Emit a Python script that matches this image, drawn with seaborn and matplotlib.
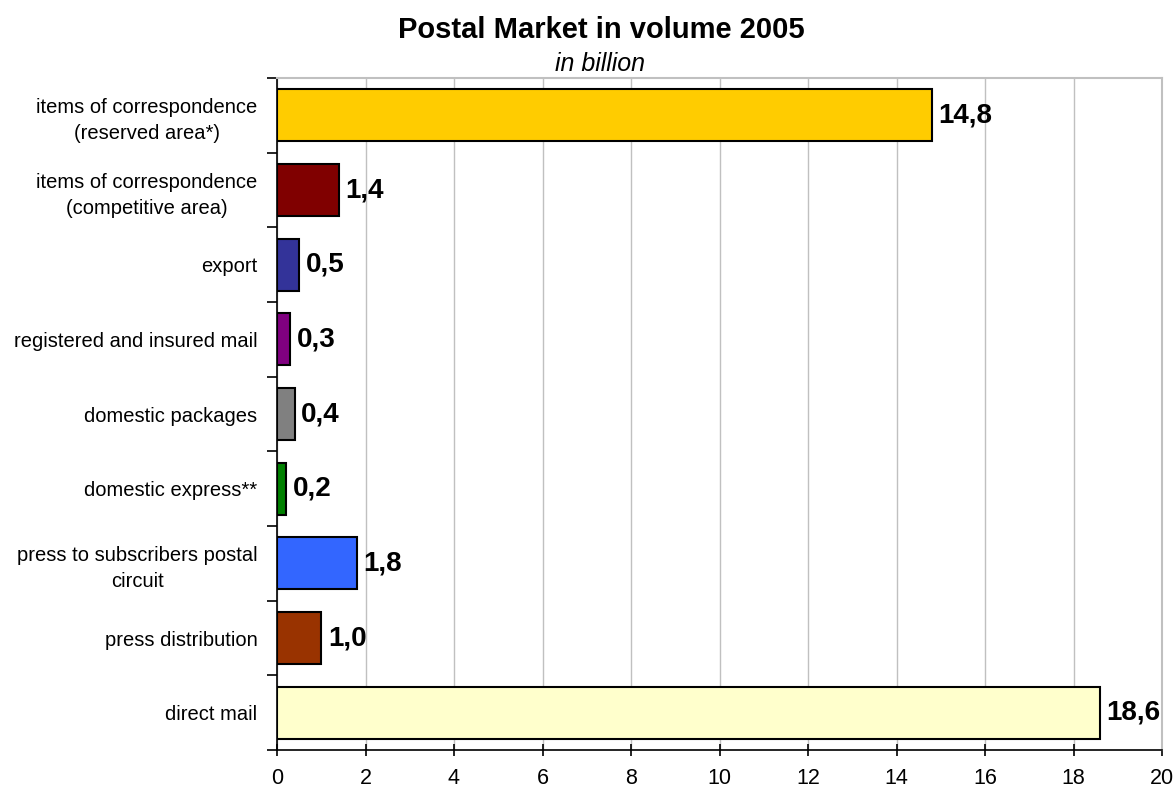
import matplotlib
matplotlib.use("Agg")
import matplotlib.pyplot as plt
import seaborn as sns
import pandas as pd
import numpy as np

categories = [
    "items of correspondence\n(reserved area*)",
    "items of correspondence\n(competitive area)",
    "export",
    "registered and insured mail",
    "domestic packages",
    "domestic express**",
    "press to subscribers postal\ncircuit",
    "press distribution",
    "direct mail",
]
values = [14.8, 1.4, 0.5, 0.3, 0.4, 0.2, 1.8, 1.0, 18.6]
value_labels = ["14,8", "1,4", "0,5", "0,3", "0,4", "0,2", "1,8", "1,0", "18,6"]
colors = ["#FFCC00", "#800000", "#333399", "#800080", "#808080",
          "#008000", "#3366FF", "#993300", "#FFFFCC"]
x_ticks = [0, 2, 4, 6, 8, 10, 12, 14, 16, 18, 20]

sns.set_theme(style="white")
plt.rcParams['font.family'] = ['Liberation Sans', 'DejaVu Sans']
plt.rcParams['text.color'] = 'black'
plt.rcParams['xtick.color'] = 'black'
plt.rcParams['ytick.color'] = 'black'

df = pd.DataFrame({"category": categories, "value": values})

fig = plt.figure(figsize=(11.76, 7.93), dpi=100)
ax = fig.add_axes([277/1176, 1 - 750/793, (1162-277)/1176, (750-78)/793])

sns.barplot(data=df, y="category", x="value", hue="category", palette=colors,
            order=categories, hue_order=categories, legend=False,
            orient="h", width=0.7, edgecolor="black", linewidth=1.5,
            saturation=1, ax=ax, zorder=3)

ax.set_xlim(0, 20)
ax.set_ylim(len(categories) - 0.5, -0.5)
ax.set_xticks(x_ticks)
ax.set_xticklabels([str(t) for t in x_ticks], fontsize=15.5)
ax.xaxis.grid(True, color="#C0C0C0", linewidth=1, zorder=0)
ax.set_axisbelow(True)
ax.set_xlabel("")
ax.set_ylabel("")

ax.tick_params(axis="y", which="major", length=0, labelsize=14.5, pad=14, left=True)
for lbl in ax.get_yticklabels():
    lbl.set_multialignment("center")
    lbl.set_linespacing(1.45)
ax.set_yticks(np.arange(-0.5, len(categories), 1), minor=True)
ax.tick_params(axis="y", which="minor", length=7, direction="out", width=1.2,
               color="black", left=True)
ax.tick_params(axis="x", which="major", length=8, direction="inout", width=1.2,
               color="black", pad=9, bottom=True)
ax.tick_params(axis="x", which="minor", length=0)

for side in ["left", "bottom"]:
    ax.spines[side].set_color("black")
    ax.spines[side].set_linewidth(1.2)
for side in ["top", "right"]:
    ax.spines[side].set_color("#C0C0C0")
    ax.spines[side].set_linewidth(1.5)

for i, (v, lab) in enumerate(zip(values, value_labels)):
    ax.text(v + 0.15, i, lab, va="center", ha="left", fontsize=20,
            fontweight="bold", color="black", zorder=4)

fig.text(601/1176, 1 - 30/793, "Postal Market in volume 2005", ha="center", va="center",
         fontsize=21, fontweight="bold")
fig.text(600/1176, 1 - 64/793, "in billion", ha="center", va="center",
         fontsize=18, style="italic")

fig.savefig("out.png", dpi=100)
